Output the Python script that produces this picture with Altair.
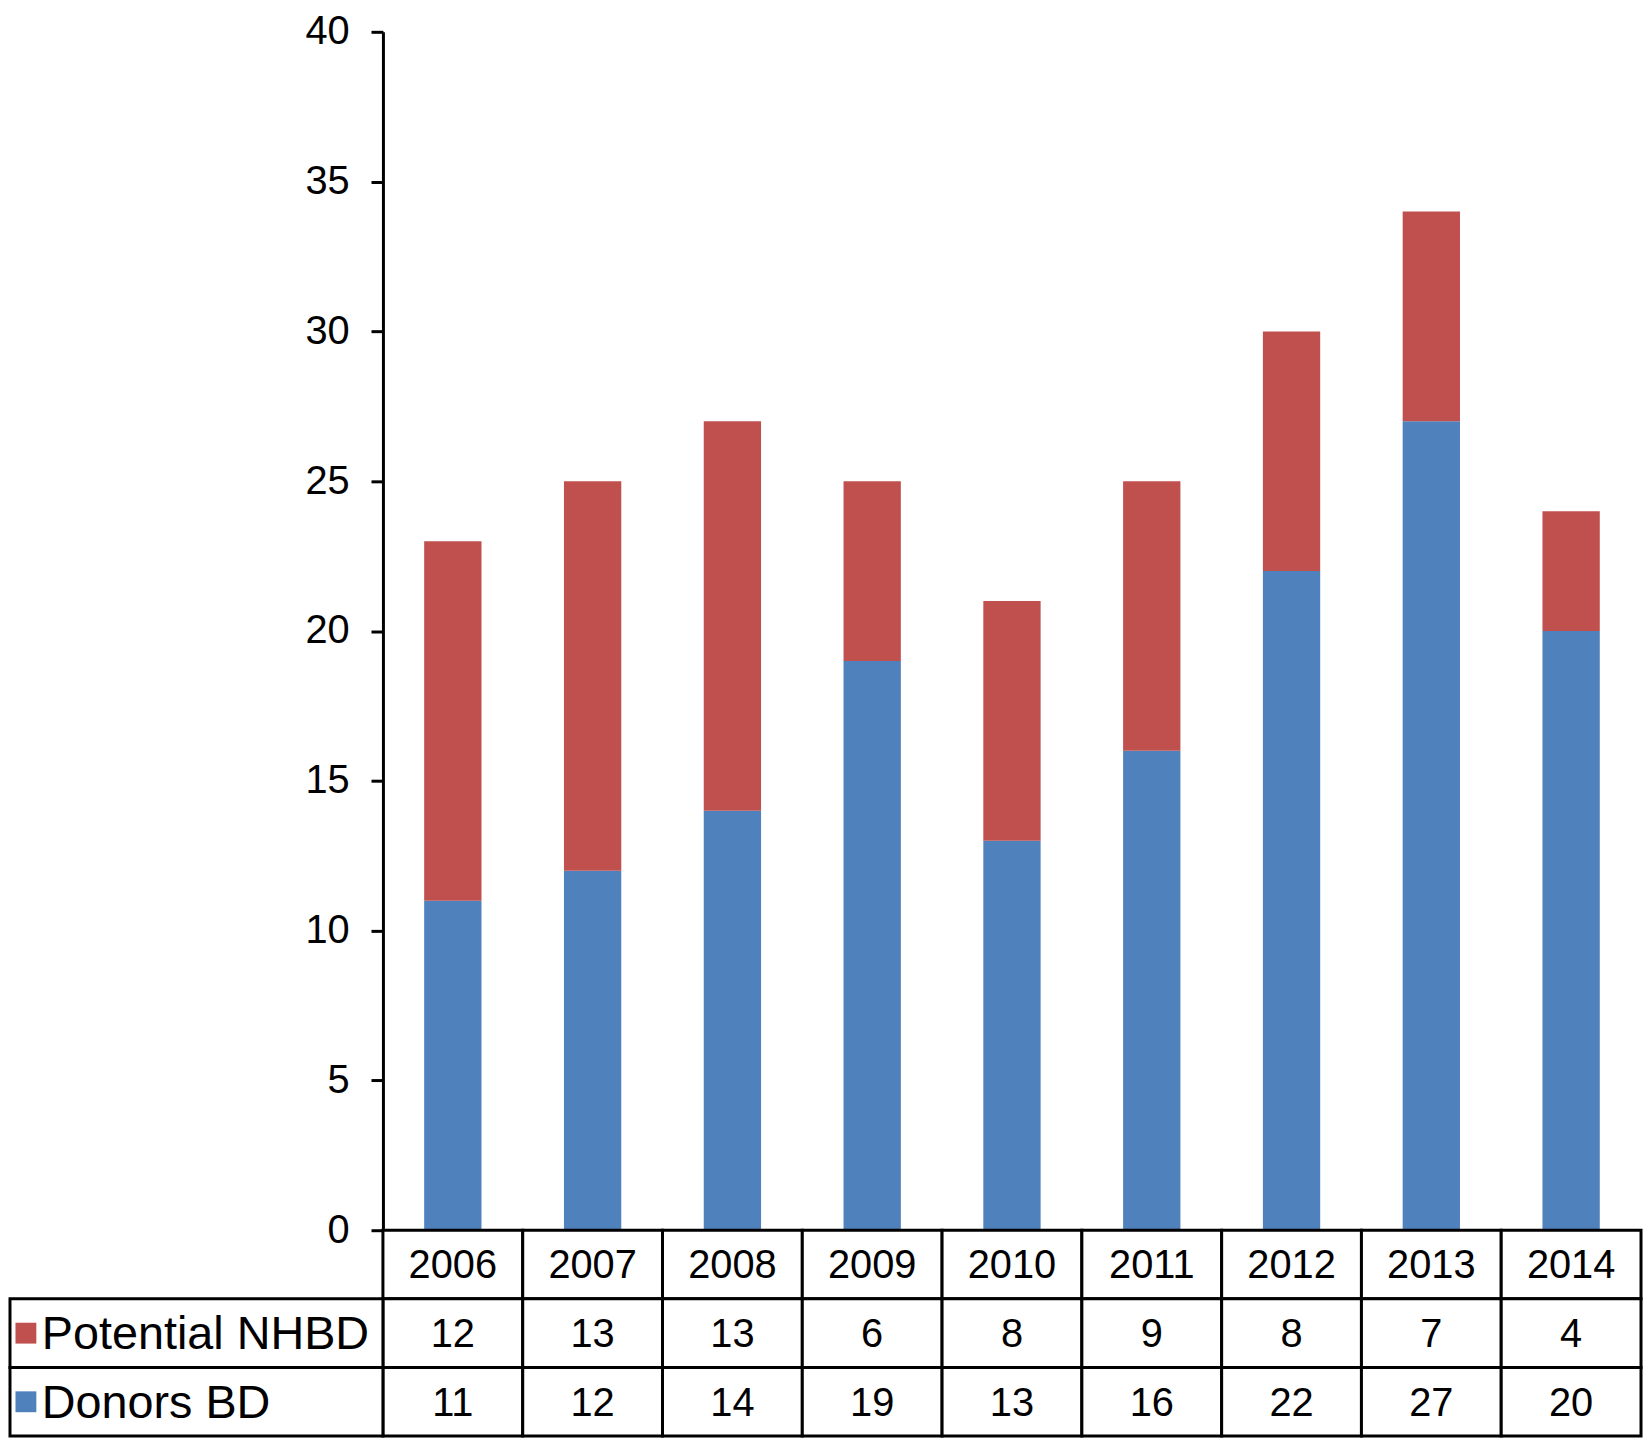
import altair as alt
import pandas as pd

years = ["2006", "2007", "2008", "2009", "2010", "2011", "2012", "2013", "2014"]
potential_nhbd = [12, 13, 13, 6, 8, 9, 8, 7, 4]
donors_bd = [11, 12, 14, 19, 13, 16, 22, 27, 20]
series = ["Potential NHBD", "Donors BD"]
colors = ["#C0504D", "#4F81BD"]
y_ticks = [0, 5, 10, 15, 20, 25, 30, 35, 40]
table_rows = ["Year", "Potential NHBD", "Donors BD"]

FONT = "Liberation Sans"
W = 1265
H = 1205
ROW_H = 69
LEFT = 375

# bar data (long format)
bar_rows = []
for i, yr in enumerate(years):
    bar_rows.append({"year": yr, "series": "Donors BD", "value": donors_bd[i], "order": 0})
    bar_rows.append({"year": yr, "series": "Potential NHBD", "value": potential_nhbd[i], "order": 1})
bars_df = pd.DataFrame(bar_rows)

# table cells
cell_rows = []
for i, yr in enumerate(years):
    cell_rows.append({"year": yr, "row": "Year", "label": yr})
    cell_rows.append({"year": yr, "row": "Potential NHBD", "label": str(potential_nhbd[i])})
    cell_rows.append({"year": yr, "row": "Donors BD", "label": str(donors_bd[i])})
cells_df = pd.DataFrame(cell_rows)

labels_df = pd.DataFrame({"row": series})

xscale = alt.Scale(domain=years, paddingInner=0, paddingOuter=0)
color_scale = alt.Scale(domain=series, range=colors)
yscale_t = alt.Scale(domain=table_rows, paddingInner=0, paddingOuter=0)

bars = alt.Chart(bars_df).mark_bar(width=alt.RelativeBandSize(0.41)).encode(
    x=alt.X("year:N", scale=xscale, axis=None, sort=years),
    y=alt.Y(
        "value:Q",
        stack="zero",
        scale=alt.Scale(domain=[0, 40], nice=False),
        axis=alt.Axis(
            values=y_ticks, title=None, grid=False,
            domainColor="black", domainWidth=3,
            tickColor="black", tickWidth=3, tickSize=12,
            labelFontSize=40, labelFont=FONT, labelColor="black", labelPadding=22,
        ),
    ),
    color=alt.Color("series:N", scale=color_scale, legend=None),
    order=alt.Order("order:Q"),
).properties(width=W, height=H)

base = alt.Chart(cells_df).encode(
    x=alt.X("year:N", scale=xscale, axis=None, sort=years),
    y=alt.Y("row:N", scale=yscale_t, axis=None, sort=table_rows),
)
cell_rect = base.mark_rect(fill="white", stroke="black", strokeWidth=3)
cell_text = base.mark_text(fontSize=40, font=FONT, color="black", baseline="middle", dy=2).encode(text="label:N")

left = alt.Chart(labels_df).encode(
    y=alt.Y("row:N", scale=yscale_t, axis=None, sort=table_rows),
)
left_rect = left.mark_rect(fill="white", stroke="black", strokeWidth=3).encode(
    x=alt.value(-LEFT), x2=alt.value(0)
)
left_sq = left.mark_square(size=440, filled=True, opacity=1).encode(
    x=alt.value(-359),
    color=alt.Color("row:N", scale=color_scale, legend=None),
)
left_text = left.mark_text(align="left", baseline="middle", fontSize=47, font=FONT, color="black", dy=2).encode(
    x=alt.value(-343), text="row:N"
)

table = alt.layer(cell_rect, cell_text, left_rect, left_sq, left_text).properties(
    width=W, height=ROW_H * 3
)

chart = (
    alt.vconcat(bars, table, spacing=0, bounds="flush")
    .properties(padding={"left": 0, "top": 0, "right": 0, "bottom": 0})
    .configure_view(stroke=None)
)

chart.save("out.html", embed_options={"renderer": "svg", "actions": False})
